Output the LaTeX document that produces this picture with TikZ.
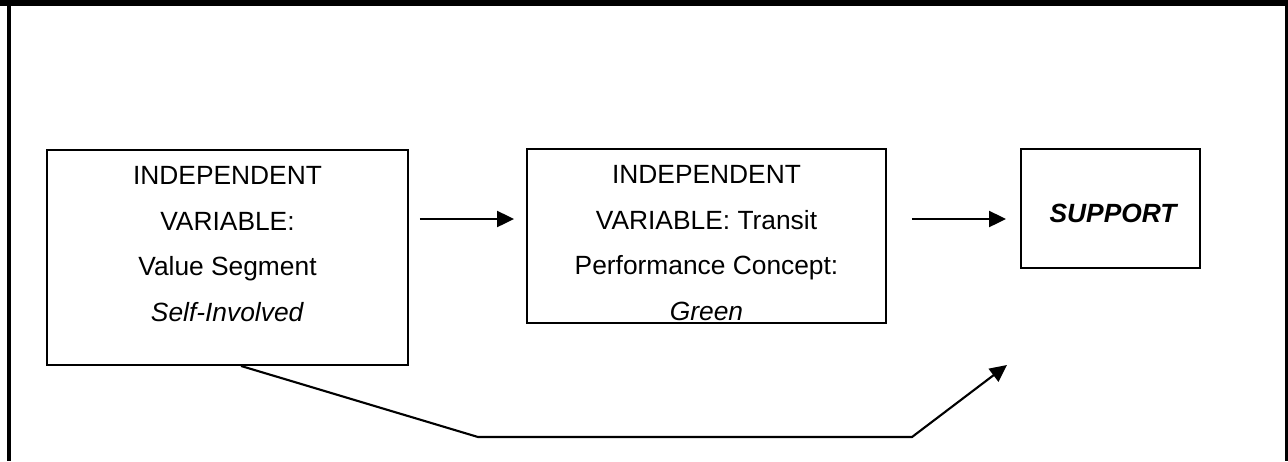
\documentclass[tikz,border=0pt]{standalone}
\usepackage{fontspec}
\setmainfont{Liberation Sans}
\usetikzlibrary{arrows.meta,positioning}

\begin{document}
\begin{tikzpicture}[x=0.02cm, y=-0.02cm,
    box/.style={draw, line width=1.1pt, inner sep=0pt},
    boxtext/.style={inner sep=0pt, align=center, font=\fontsize{15pt}{26pt}\selectfont},
    flow/.style={line width=1.2pt, -{Triangle[length=0.34cm, width=0.32cm]}}]
    \useasboundingbox (0,0) rectangle (1288,461);

    % frame
    \fill (0,0) rectangle (1288,6);
    \draw[line width=2.2pt] (9,0) -- (9,461);
    \draw[line width=2.2pt] (1287,0) -- (1287,461);

    % boxes
    \node[box, minimum width=7.22cm, minimum height=4.3cm] (segment) at (227.5,257.5) {};
    \node[box, minimum width=7.18cm, minimum height=3.48cm] (concept) at (706.5,236) {};
    \node[box, minimum width=3.58cm, minimum height=2.38cm] (support) at (1110.5,208.5) {};

    % texts
    \node[boxtext, below=0.34cm of segment.north] (segmenttext)
        {INDEPENDENT\\VARIABLE:\\Value Segment\\\textit{Self-Involved}};
    \node[boxtext, below=0.34cm of concept.north] (concepttext)
        {INDEPENDENT\\VARIABLE: Transit\\Performance Concept:\\\textit{Green}};
    \node[boxtext, below=1.12cm of support.north, xshift=0.07cm] (supporttext)
        {\textbf{\textit{SUPPORT}}};

    % arrows
    \coordinate (row) at (0,219);
    \draw[flow, shorten <=0.22cm, shorten >=0.24cm] (segment.east |- row) -- (concept.west |- row);
    \draw[flow, shorten <=0.5cm, shorten >=0.28cm] (concept.east |- row) -- (support.west |- row);

    % direct path
    \coordinate (bendA) at (478,437);
    \coordinate (bendB) at (912,437);
    \coordinate (tip) at (1007,365);
    \draw[flow] ([xshift=0.27cm]segment.south) -- (bendA) -- (bendB) -- (tip);
\end{tikzpicture}
\end{document}
